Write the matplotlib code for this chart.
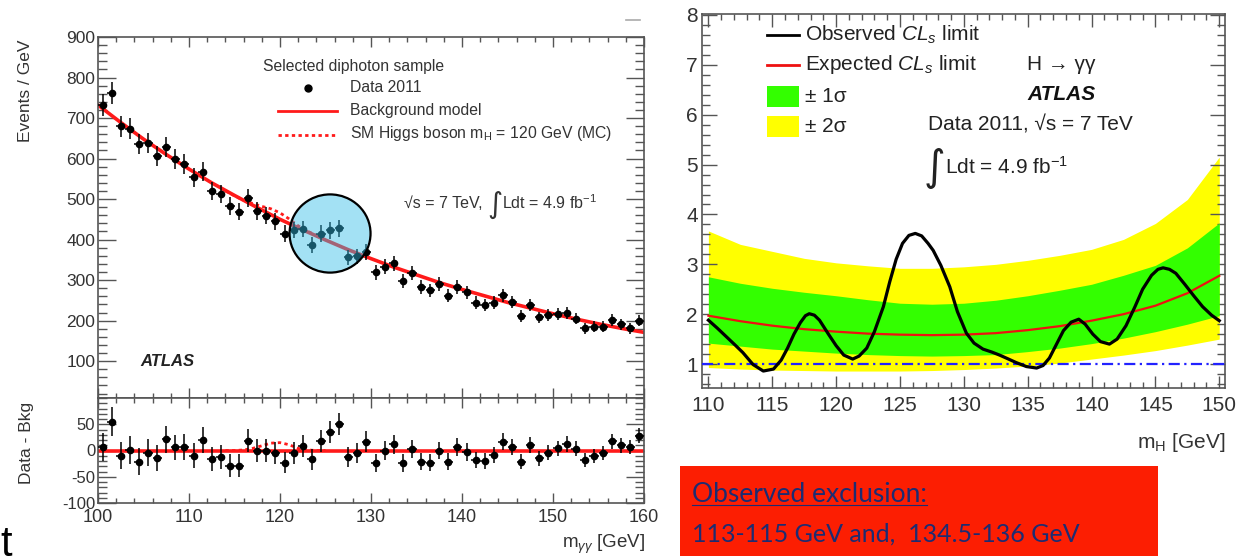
import numpy as np
import matplotlib
matplotlib.use('Agg')
import matplotlib.pyplot as plt
from matplotlib.patches import Ellipse, Rectangle
from matplotlib.lines import Line2D
from matplotlib.ticker import MultipleLocator

plt.rcParams['font.family'] = ['Liberation Sans', 'DejaVu Sans']
plt.rcParams['axes.unicode_minus'] = False
plt.rcParams['mathtext.fontset'] = 'custom'
plt.rcParams['mathtext.rm'] = 'Liberation Sans'
plt.rcParams['mathtext.it'] = 'Liberation Sans:italic'
plt.rcParams['mathtext.bf'] = 'Liberation Sans:bold'

# --- diphoton mass spectrum (1 GeV bins) ---
mass_bins = np.arange(100.5, 160, 1.0)
events = [732, 762, 680, 673, 636, 638, 607, 629, 599, 586,
          554, 568, 520, 512, 482, 469, 503, 471, 459, 445,
          415, 424, 426, 387, 415, 423, 428, 356, 359, 369,
          319, 333, 341, 297, 317, 283, 275, 290, 261, 283,
          270, 244, 238, 244, 262, 246, 212, 238, 208, 214,
          216, 220, 205, 181, 185, 185, 202, 191, 181, 200]
residuals = [7, 55, -10, 1, -21, -4, -15, 21, 6, 7,
             -10, 20, -17, -12, -29, -29, 19, 0, 0, -4,
             -23, -5, 9, -17, 18, 35, 50, -12, -4, 17,
             -24, 0, 12, -23, 3, -21, -23, 0, -21, 7,
             -3, -18, -20, -9, 17, 7, -21, 10, -15, -4,
             4, 12, 3, -18, -10, -5, 18, 10, 6, 28]

bkg_x = np.arange(100, 160.1, 2.5)
bkg_y = [732, 689, 648, 610, 574, 540, 509, 479, 450, 424, 399, 375, 353,
         332, 313, 294, 277, 261, 245, 231, 217, 204, 192, 181, 171]

higgs_x = np.arange(114, 126, 1.0)
higgs_total = [520, 508, 497, 489, 482, 476, 466, 451, 434, 421, 410, 400]
higgs_excess = [0, 0, 1, 4, 9, 14, 15, 11, 4, 1, 0, 0]

# --- CLs limit scan ---
band_x = np.arange(110, 150.1, 2.5)
expected = [1.97, 1.86, 1.77, 1.70, 1.65, 1.61, 1.59, 1.58, 1.59,
            1.62, 1.68, 1.76, 1.87, 2.00, 2.17, 2.42, 2.77]
one_sig_hi = [2.75, 2.62, 2.52, 2.44, 2.37, 2.29, 2.22, 2.20, 2.22,
              2.28, 2.37, 2.48, 2.60, 2.78, 2.98, 3.33, 3.83]
one_sig_lo = [1.42, 1.36, 1.30, 1.26, 1.22, 1.19, 1.17, 1.16, 1.17,
              1.19, 1.25, 1.32, 1.41, 1.52, 1.65, 1.80, 1.97]
two_sig_hi = [3.67, 3.40, 3.26, 3.12, 3.03, 2.97, 2.92, 2.92, 2.95,
              3.00, 3.08, 3.18, 3.30, 3.50, 3.82, 4.30, 5.15]
two_sig_lo = [0.93, 0.90, 0.88, 0.87, 0.86, 0.86, 0.86, 0.87, 0.89,
              0.92, 0.96, 1.02, 1.10, 1.18, 1.27, 1.38, 1.50]

obs_x = [110.0, 110.7, 111.4, 112.1, 112.7, 113.5, 114.3, 115.1, 115.7, 116.2,
         116.7, 117.2, 117.6, 117.9, 118.3, 118.7, 119.4, 120.0, 120.6, 121.3,
         121.8, 122.4, 123.0, 123.7, 124.2, 124.7, 125.2, 125.7, 126.2, 126.7,
         127.2, 127.6, 128.2, 128.9, 129.5, 130.2, 130.8, 131.5, 132.2, 132.8,
         133.5, 134.1, 134.9, 135.7, 136.2, 136.7, 137.3, 137.8, 138.4, 139.0,
         139.5, 140.1, 140.7, 141.4, 142.0, 142.7, 143.4, 144.0, 144.7, 145.2,
         145.6, 146.1, 146.6, 147.3, 148.0, 148.7, 149.4, 150.0]
obs_y = [1.88, 1.72, 1.55, 1.38, 1.23, 0.99, 0.86, 0.90, 1.08, 1.32,
         1.60, 1.83, 1.97, 2.01, 1.98, 1.88, 1.60, 1.37, 1.18, 1.10,
         1.16, 1.32, 1.65, 2.15, 2.65, 3.10, 3.42, 3.58, 3.62, 3.57,
         3.42, 3.28, 2.98, 2.55, 2.05, 1.62, 1.42, 1.30, 1.24, 1.18,
         1.10, 1.03, 0.95, 0.92, 0.97, 1.12, 1.42, 1.67, 1.84, 1.90,
         1.80, 1.60, 1.45, 1.40, 1.50, 1.77, 2.15, 2.50, 2.78, 2.90,
         2.93, 2.90, 2.82, 2.60, 2.37, 2.15, 1.98, 1.87]

W, H = 1247, 556
RED = '#ff1a1a'
TXT = '#333333'

fig = plt.figure(figsize=(W / 100, H / 100), dpi=100)


def px_rect(l, t, r, b):
    return [l / W, 1 - b / H, (r - l) / W, (b - t) / H]


def ftext(x, y, s, **kw):
    return fig.text(x / W, 1 - y / H, s, **kw)


def fline(x0, x1, y, **kw):
    fig.add_artist(Line2D([x0 / W, x1 / W], [1 - y / H, 1 - y / H],
                          transform=fig.transFigure, **kw))


def root_style(ax, xlen, ylen, lw=1.0):
    ax.tick_params(which='both', direction='in', top=True, right=True,
                   colors='#555555', labelcolor=TXT, width=lw)
    ax.tick_params(axis='x', which='major', length=xlen)
    ax.tick_params(axis='x', which='minor', length=xlen / 2)
    ax.tick_params(axis='y', which='major', length=ylen)
    ax.tick_params(axis='y', which='minor', length=ylen / 2)
    for s in ax.spines.values():
        s.set_color('#555555')
        s.set_linewidth(1.2)


# ---------------- left: spectrum + residuals ----------------
ax_top = fig.add_axes(px_rect(98, 37, 644, 398))
ax_bot = fig.add_axes(px_rect(98, 398, 644, 503), sharex=ax_top)

err = np.sqrt(events)
ax_top.plot(bkg_x, bkg_y, color=RED, lw=2.6, zorder=2)
ax_top.plot(higgs_x, higgs_total, color=RED, lw=2, ls=(0, (1.2, 1.2)), zorder=2)
ax_top.errorbar(mass_bins, events, yerr=err, xerr=0.5, fmt='o', color='black',
                ms=4.5, elinewidth=1.1, capsize=0, zorder=3)
# highlighted mass window
ax_top.add_patch(Ellipse((125.5, 415), 8.9, 193, facecolor=(0.2, 0.74, 0.91, 0.45),
                         edgecolor='black', lw=1.6, zorder=5))
ax_top.set_xlim(100, 160)
ax_top.set_ylim(9, 900)
ax_top.set_yticks(range(100, 901, 100))
ax_top.xaxis.set_major_locator(MultipleLocator(10))
ax_top.xaxis.set_minor_locator(MultipleLocator(2))
ax_top.yaxis.set_minor_locator(MultipleLocator(20))
root_style(ax_top, 7, 13)
ax_top.tick_params(axis='x', labelbottom=False)
ax_top.tick_params(axis='y', labelsize=12.5, pad=2)

ax_bot.axhline(0, color=RED, lw=2.6, zorder=2)
ax_bot.plot(higgs_x, higgs_excess, color=RED, lw=2, ls=(0, (1.2, 1.2)), zorder=2)
ax_bot.errorbar(mass_bins, residuals, yerr=err, xerr=0.5, fmt='o', color='black',
                ms=4.5, elinewidth=1.1, capsize=0, zorder=3)
ax_bot.set_ylim(-100, 100)
ax_bot.set_yticks([-100, -50, 0, 50])
ax_bot.yaxis.set_minor_locator(MultipleLocator(10))
root_style(ax_bot, 7, 13)
ax_bot.tick_params(axis='y', labelsize=12, pad=2)
ax_bot.tick_params(axis='x', labelsize=13, pad=4)

ftext(26, 40, 'Events / GeV', rotation=90, ha='center', va='top', fontsize=12.5, color=TXT)
ftext(26, 443, 'Data - Bkg', rotation=90, ha='center', va='center', fontsize=12.5, color=TXT)
ftext(645, 544, r'm$_{\gamma\gamma}$ [GeV]', ha='right', va='center', fontsize=13.5, color=TXT)

ftext(263, 66, 'Selected diphoton sample', va='center', fontsize=11.3, color=TXT)
fig.add_artist(Line2D([308 / W], [1 - 88 / H], marker='o', color='black', ms=5,
                      transform=fig.transFigure))
ftext(350, 88, 'Data 2011', va='center', fontsize=11.3, color=TXT)
fline(278, 337, 111, color=RED, lw=2)
ftext(350, 110, 'Background model', va='center', fontsize=11.3, color=TXT)
fline(278, 337, 135, color=RED, lw=2, ls=(0, (1.2, 1.2)))
ftext(350, 133, r'SM Higgs boson m$_\mathrm{H}$ = 120 GeV (MC)', va='center', fontsize=11.3, color=TXT)
ftext(404, 203, '\u221as = 7 TeV,', va='center', fontsize=11.5, color=TXT)
ftext(487, 205, '\u222b', va='center', fontsize=21, color=TXT, family=['DejaVu Sans'])
ftext(502, 203, r'Ldt = 4.9 fb$^{-1}$', va='center', fontsize=11.5, color=TXT)
ftext(140, 362, 'ATLAS', va='center', fontsize=12, fontweight='bold', fontstyle='italic', color='#222222')

# ---------------- right: CLs limit ----------------
ax_cls = fig.add_axes(px_rect(702, 14, 1225, 388))
ax_cls.fill_between(band_x, two_sig_lo, two_sig_hi, color='#ffff00', lw=0, zorder=1)
ax_cls.fill_between(band_x, one_sig_lo, one_sig_hi, color='#33ff00', lw=0, zorder=2)
ax_cls.plot(band_x, expected, color='#ee1111', lw=1.6, zorder=3)
ax_cls.axhline(1, color='#2222ff', lw=1.6, ls=(0, (5, 2, 1, 2)), zorder=3)
ax_cls.plot(obs_x, obs_y, color='black', lw=2.3, zorder=4)
ax_cls.set_xlim(109.5, 150.45)
ax_cls.set_ylim(0.52, 8.02)
ax_cls.set_xticks(range(110, 151, 5))
ax_cls.set_yticks(range(1, 9))
ax_cls.xaxis.set_minor_locator(MultipleLocator(1))
ax_cls.yaxis.set_minor_locator(MultipleLocator(0.2))
root_style(ax_cls, 9, 11)
ax_cls.tick_params(labelsize=15)
ax_cls.tick_params(axis='y', pad=3)
ax_cls.tick_params(axis='x', pad=6)
ftext(1225, 443, r'm$_\mathrm{H}$ [GeV]', ha='right', va='center', fontsize=15, color=TXT)

fline(767, 799, 35, color='black', lw=2)
ftext(805, 35, r'Observed $CL_s$ limit', va='center', fontsize=15, color='#222222')
fline(767, 799, 65, color='#ee1111', lw=2)
ftext(805, 65, r'Expected $CL_s$ limit', va='center', fontsize=15, color='#222222')
fig.add_artist(Rectangle((767 / W, 1 - 107 / H), 32 / W, 21 / H, facecolor='#33ff00',
                         transform=fig.transFigure))
ftext(805, 97, '\u00b1 1\u03c3', va='center', fontsize=15, color='#222222')
fig.add_artist(Rectangle((767 / W, 1 - 137 / H), 32 / W, 21 / H, facecolor='#ffff00',
                         transform=fig.transFigure))
ftext(805, 126, '\u00b1 2\u03c3', va='center', fontsize=15, color='#222222')
ftext(1027, 65, 'H \u2192 \u03b3\u03b3', va='center', fontsize=15, color='#222222')
ftext(1027, 95, 'ATLAS', va='center', fontsize=15, fontweight='bold', fontstyle='italic', color='#111111')
ftext(928, 125, 'Data 2011, \u221as = 7 TeV', va='center', fontsize=15, color='#222222')
ftext(924, 168, '\u222b', va='center', fontsize=30, color='#222222', family=['DejaVu Sans'])
ftext(945, 167, r'Ldt = 4.9 fb$^{-1}$', va='center', fontsize=15, color='#222222')

# ---------------- exclusion note ----------------
fig.add_artist(Rectangle((680 / W, 0), 478 / W, 90 / H, facecolor='#fc1e02',
                         edgecolor='none', transform=fig.transFigure))
t1 = ftext(692, 502, 'Observed exclusion:', va='baseline', fontsize=19,
           color='#1d2c72', family=['Lato', 'DejaVu Sans'])
ftext(692, 542, '113-115 GeV and,  134.5-136 GeV', va='baseline', fontsize=18,
      color='#1d2c72', family=['Lato', 'DejaVu Sans'])
fig.canvas.draw()
bb = t1.get_window_extent()
fline(bb.x0, bb.x1, 505, color='#1d2c72', lw=0.8)

ftext(0, 556, 't', va='baseline', ha='left', fontsize=30, color='black')
fline(626, 640, 20, color='#aaaaaa', lw=1.2)

fig.savefig('out.png', dpi=100)
